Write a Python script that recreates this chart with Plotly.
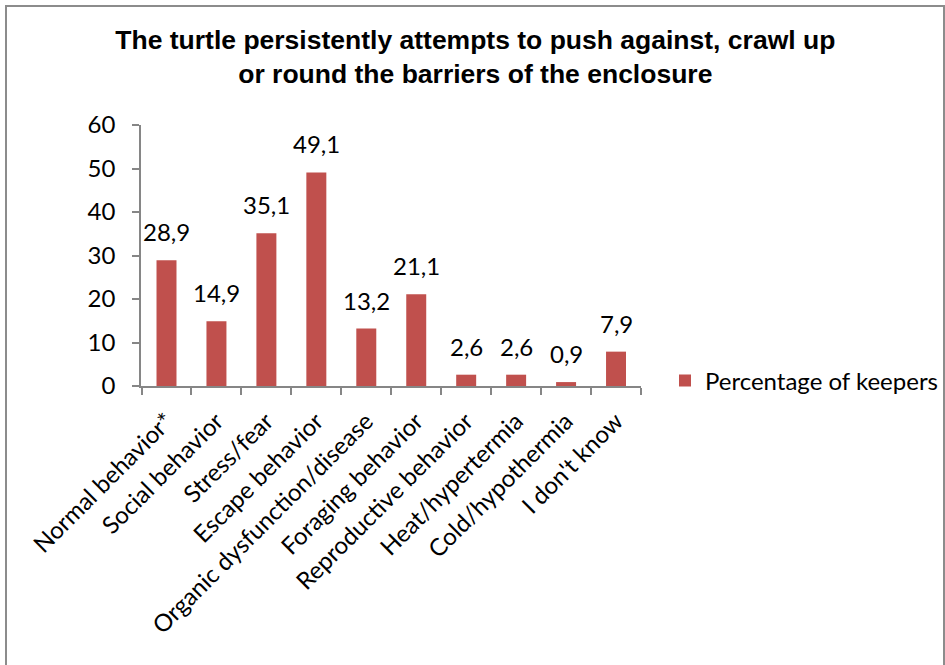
import plotly.graph_objects as go

# Survey answers: what keepers think the behaviour means
categories = [
    "Normal behavior*",
    "Social behavior",
    "Stress/fear",
    "Escape behavior",
    "Organic dysfunction/disease",
    "Foraging behavior",
    "Reproductive behavior",
    "Heat/hypertermia",
    "Cold/hypothermia",
    "I don't know",
]
percentages = [28.9, 14.9, 35.1, 49.1, 13.2, 21.1, 2.6, 2.6, 0.9, 7.9]
y_ticks = [0, 10, 20, 30, 40, 50, 60]
series_name = "Percentage of keepers"

W, H = 945, 665
L, R, T, B = 141, 641, 125, 386  # plot area in pixels

BAR = "#C0504D"
AXIS = "#868686"
LABEL_FONT = "Lato, Carlito, Calibri, sans-serif"
LABEL_SIZE = 24


def px_x(p):
    return (p - L) / (R - L)


def px_y(p):
    return (B - p) / (B - T)


fig = go.Figure(
    go.Bar(
        x=categories,
        y=percentages,
        name=series_name,
        marker=dict(color=BAR, line=dict(width=0)),
        showlegend=True,
    )
)

# value labels above each bar, decimal comma
for cat, val in zip(categories, percentages):
    fig.add_annotation(
        x=cat,
        y=val,
        text=f"{val:.1f}".replace(".", ","),
        showarrow=False,
        yanchor="bottom",
        yshift=12,
        font=dict(family=LABEL_FONT, size=LABEL_SIZE, color="#000000"),
    )

# chart frame
fig.add_shape(
    type="rect",
    xref="paper",
    yref="paper",
    x0=px_x(6),
    x1=px_x(944),
    y0=px_y(720),
    y1=px_y(6),
    line=dict(color="#8C8C8C", width=2),
    layer="below",
)

fig.update_layout(
    width=W,
    height=H,
    margin=dict(l=L, r=W - R, t=T, b=H - B, autoexpand=False),
    paper_bgcolor="#FFFFFF",
    plot_bgcolor="#FFFFFF",
    bargap=0.6,
    title=dict(
        text="The turtle persistently attempts to push against, crawl up<br>or round the barriers of the enclosure",
        x=0.503,
        xanchor="center",
        yref="container",
        y=1 - 49 / H,
        yanchor="top",
        font=dict(family="Liberation Sans", size=26.5, color="#000000", weight="bold"),
    ),
    xaxis=dict(
        type="category",
        showline=True,
        linecolor=AXIS,
        linewidth=1.5,
        ticks="outside",
        ticklen=7,
        tickcolor=AXIS,
        tickwidth=1.5,
        tickson="boundaries",
        tickangle=-45,
        ticklabelstandoff=10,
        showgrid=False,
        tickfont=dict(family=LABEL_FONT, size=LABEL_SIZE, color="#000000"),
    ),
    yaxis=dict(
        range=[0, 60],
        tickvals=y_ticks,
        showline=True,
        linecolor=AXIS,
        linewidth=1.5,
        ticks="outside",
        ticklen=7,
        tickcolor=AXIS,
        tickwidth=1.5,
        ticklabelstandoff=12,
        showgrid=False,
        zeroline=False,
        tickfont=dict(family=LABEL_FONT, size=LABEL_SIZE, color="#000000"),
    ),
    showlegend=True,
    legend=dict(
        x=px_x(665),
        xanchor="left",
        y=px_y(381),
        yanchor="middle",
        font=dict(family=LABEL_FONT, size=LABEL_SIZE, color="#000000"),
        bgcolor="rgba(0,0,0,0)",
    ),
)

fig.write_html("out.html")
